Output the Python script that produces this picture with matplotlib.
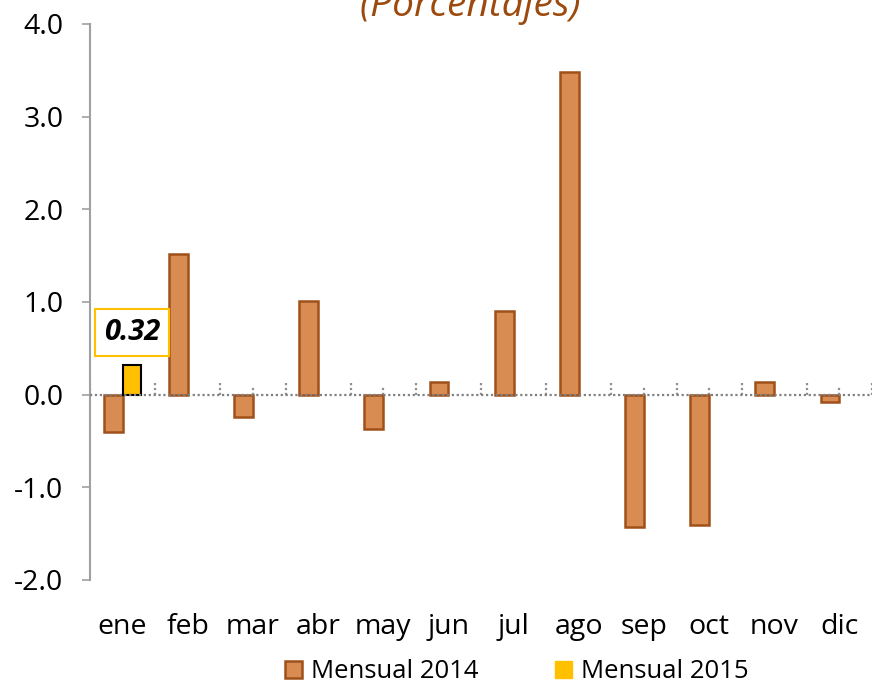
import numpy as np
import matplotlib
matplotlib.use("Agg")
import matplotlib.pyplot as plt
from matplotlib.patches import Patch

meses = ["ene", "feb", "mar", "abr", "may", "jun", "jul", "ago", "sep", "oct", "nov", "dic"]
mensual_2014 = [-0.40, 1.52, -0.24, 1.01, -0.37, 0.14, 0.90, 3.48, -1.43, -1.41, 0.14, -0.08]
mensual_2015 = [0.32]

C14 = "#D98C52"; E14 = "#A0501A"; C15 = "#FFC000"; BROWN = "#9C4A0E"
plt.rcParams["font.family"] = ["Open Sans", "DejaVu Sans"]

fig = plt.figure(figsize=(8.72, 6.84), dpi=100)
ax = fig.add_axes([90 / 872, 1 - 580 / 684, 782 / 872, 556 / 684])

x = np.arange(len(meses))
w = 0.29
ax.bar(x - w / 2, mensual_2014, w, color=C14, edgecolor=E14, lw=1.8, zorder=3)
x15 = np.arange(len(mensual_2015))
ax.bar(x15 + w / 2, mensual_2015, w, color=C15, edgecolor="black", lw=1.5, zorder=3)

# zero line with dotted category ticks
ax.axhline(0, color="#808080", lw=1.6, ls=(0, (1, 1.2)), zorder=4)
for k in range(2 * len(meses) + 1):
    xb = -0.5 + k * 0.5
    h = 0.13 if k % 2 == 0 else 0.09
    ax.plot([xb, xb], [0, h], color="#909090", lw=1.6, ls=(0, (1, 1.2)), zorder=2)

ax.set_xlim(-0.5, len(meses) - 0.5)
ax.set_ylim(-2.0, 4.0)
ax.set_yticks(np.arange(-2, 4.1, 1.0))
ax.set_yticklabels([f"{v:.1f}" for v in np.arange(-2, 4.1, 1.0)], fontsize=20.5)
ax.set_xticks(x)
ax.set_xticklabels(meses, fontsize=20.5)
ax.tick_params(axis="x", length=0, pad=24)
ax.tick_params(axis="y", length=6, width=1.2, color="#A0A0A0", pad=13)
for s in ["top", "right", "bottom"]:
    ax.spines[s].set_visible(False)
ax.spines["left"].set_color("#A0A0A0")
ax.spines["left"].set_linewidth(1.5)

# data label
ax.annotate(f"{mensual_2015[0]:.2f}", xy=(x15[0] + w / 2, mensual_2015[0]), xytext=(0.15, 0.67),
            textcoords="data", ha="center", va="center", fontsize=21, fontweight="bold",
            style="italic", color="black",
            bbox=dict(boxstyle="square,pad=0.3", fc="white", ec=C15, lw=1.5), zorder=5)

fig.text(470 / 872, 1 - 25 / 684, "(Porcentajes)", ha="center", va="bottom", fontsize=28,
         style="italic", color=BROWN)

handles = [Patch(fc=C14, ec=E14, lw=1.8), Patch(fc=C15, ec=C15)]
fig.legend(handles, ["Mensual 2014", "Mensual 2015"], loc="center", bbox_to_anchor=(517 / 872, 1 - 672 / 684),
           ncol=2, frameon=False, fontsize=18.5, handlelength=0.65, handleheight=0.65,
           handletextpad=0.35, columnspacing=3.0, borderaxespad=0)

fig.savefig("out.png", dpi=100, facecolor="white")
